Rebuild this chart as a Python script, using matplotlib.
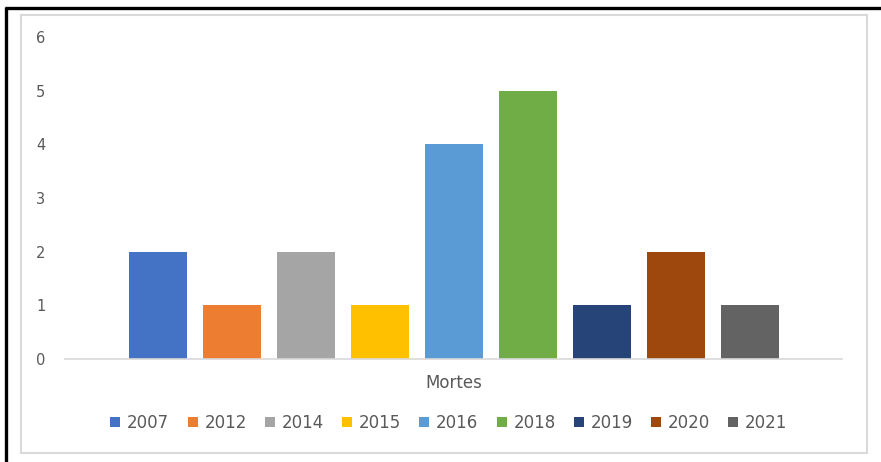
import matplotlib
matplotlib.use("Agg")
import matplotlib.pyplot as plt
from matplotlib.lines import Line2D
from matplotlib.patches import Rectangle
import numpy as np

plt.rcParams['font.family'] = ['DejaVu Sans']

years = ["2007", "2012", "2014", "2015", "2016", "2018", "2019", "2020", "2021"]
deaths = [2, 1, 2, 1, 4, 5, 1, 2, 1]
colors = ["#4472C4", "#ED7D31", "#A5A5A5", "#FFC000", "#5B9BD5",
          "#70AD47", "#264478", "#9E480E", "#636363"]
category = "Mortes"
yticks = [0, 1, 2, 3, 4, 5, 6]

W, H = 881, 462
fig = plt.figure(figsize=(W / 100, H / 100), dpi=100)

# outer black border (top & left), inner gray frame
fig.add_artist(Line2D([6 / W, 6 / W], [0, 1 - 7 / H], transform=fig.transFigure,
                      color="black", lw=2.4, solid_capstyle="butt"))
fig.add_artist(Line2D([5 / W, 1], [1 - 8 / H, 1 - 8 / H], transform=fig.transFigure,
                      color="black", lw=2.4, solid_capstyle="butt"))
fig.add_artist(Rectangle((21 / W, 1 - 453 / H), (867 - 21) / W, (453 - 15) / H,
                         transform=fig.transFigure, fill=False,
                         edgecolor="#D9D9D9", lw=1.5))

ax = fig.add_axes([65 / W, 1 - 359 / H, (842 - 65) / W, (359 - 37) / H])
x = np.arange(len(years))
for xi, v, c, lab in zip(x, deaths, colors, years):
    ax.bar(xi, v, width=58 / 74, color=c, label=lab)

ax.set_xlim(4 - 5.25, 4 + 5.25)
ax.set_ylim(0, 6)
ax.set_yticks(yticks)
ax.set_yticklabels([str(t) for t in yticks], color="#595959", fontsize=10.5)
ax.tick_params(axis="y", length=0, pad=14)
ax.set_xticks([])
for s in ["top", "right", "left"]:
    ax.spines[s].set_visible(False)
ax.spines["bottom"].set_color("#D9D9D9")
ax.spines["bottom"].set_linewidth(1.2)
ax.set_xlabel(category, color="#595959", fontsize=12, labelpad=11)

handles, labels = ax.get_legend_handles_labels()
leg = fig.legend(handles, labels, loc="center", bbox_to_anchor=(449 / W, 1 - 423 / H),
                 ncol=9, frameon=False, fontsize=12, handlelength=0.6, handleheight=0.6,
                 handletextpad=0.4, columnspacing=1.1, labelcolor="#595959")

fig.savefig("out.png", dpi=100)
